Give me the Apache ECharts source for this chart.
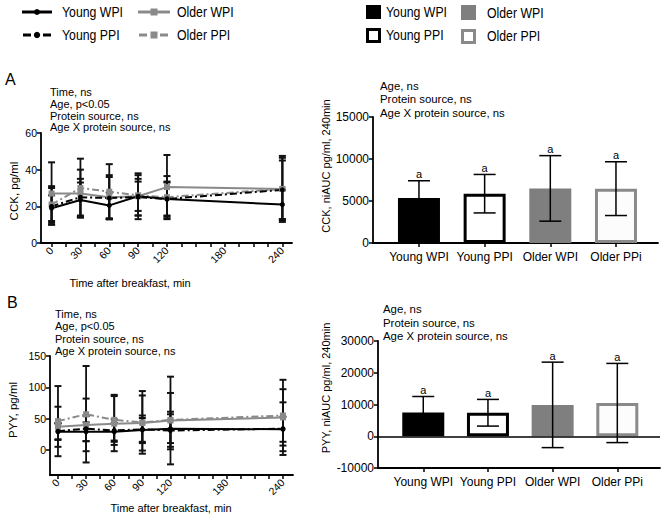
<!DOCTYPE html>
<html>
<head>
<meta charset="utf-8">
<script src="https://cdn.jsdelivr.net/npm/echarts@6/dist/echarts.min.js"></script>
<style>html,body{margin:0;padding:0;background:#fff}#c{width:663px;height:516px}</style>
</head>
<body>
<div id="c"></div>
<script>
// ---------- data ----------
const times = [0, 30, 60, 90, 120, 240];
const timeTicks = [0, 15, 30, 45, 60, 75, 90, 105, 120, 135, 150, 165, 180, 195, 210, 225, 240];
const timeLabels = [0, 30, 60, 90, 120, 180, 240];

// CCK (pg/ml), mean and SD
const cckYoungWpi = [19, 23.5, 20.5, 25.5, 24, 21];
const cckYoungWpiSd = [7, 9.5, 7, 8, 9, 8];
const cckYoungPpi = [20, 25, 24.5, 25, 24, 29];
const cckYoungPpiSd = [10, 10, 11.5, 10, 9.5, 16];
const cckOlderWpi = [27, 27, 25, 25.5, 30.5, 29.5];
const cckOlderWpiSd = [17, 13, 12, 12.5, 17.5, 18];
const cckOlderPpi = [21, 30, 28, 26, 25, 29.5];
const cckOlderPpiSd = [10, 16, 15, 11, 11.5, 17];

// PYY (pg/ml), mean and SD
const pyyYoungWpi = [29, 29, 29, 32, 34, 33];
const pyyYoungWpiSd = [13, 15, 14, 19, 23, 20];
const pyyYoungPpi = [30, 34, 31, 33, 31, 34];
const pyyYoungPpiSd = [13, 20, 18, 22, 30, 42];
const pyyOlderWpi = [37, 40, 42, 43, 47, 52];
const pyyOlderWpiSd = [32, 42, 44, 44, 70, 45];
const pyyOlderPpi = [46, 57, 48, 44, 48, 55];
const pyyOlderPpiSd = [56, 77, 40, 50, 43, 57];

// AUC bars
const barCategories = ['Young WPI', 'Young PPI', 'Older WPI', 'Older PPi'];
const cckAuc = [5350, 5870, 6500, 6470];
const cckAucSd = [2060, 2290, 3900, 3200];
const pyyAuc = [7470, 7400, 9880, 10470];
const pyyAucSd = [5050, 4200, 13460, 12470];
const sigLetters = ['a', 'a', 'a', 'a'];

const cckTicks = [0, 20, 40, 60];
const pyyTicks = [0, 50, 100, 150];

// ---------- styles ----------
const FONT = '"Liberation Sans", Arial, Helvetica, sans-serif';
const BLACK = '#000';
const GREY = '#8a8a8a';
const ERR = '#111';
const DASH = [7, 3, 2, 3];

const chart = echarts.init(document.getElementById('c'), null, {renderer: 'svg'});

function lineSeries(name, means, color, dashed, symbol, idx) {
  return {
    type: 'line', name, xAxisIndex: idx, yAxisIndex: idx,
    data: times.map((t, i) => [t, means[i]]),
    symbol, symbolSize: symbol === 'circle' ? 5 : 6,
    lineStyle: {color, width: 2, type: dashed ? DASH : 'solid'},
    itemStyle: {color}, z: 4, animation: false
  };
}
function errSeries(name, means, sds, idx) {
  return {
    type: 'custom', name, xAxisIndex: idx, yAxisIndex: idx, z: 3, animation: false,
    data: times.map((t, i) => [t, means[i] - sds[i], means[i] + sds[i]]),
    encode: {x: 0, y: [1, 2]},
    renderItem: (params, api) => {
      const lo = api.coord([api.value(0), api.value(1)]);
      const hi = api.coord([api.value(0), api.value(2)]);
      const w = 3.5;
      const st = {stroke: ERR, lineWidth: 1.8};
      return {type: 'group', children: [
        {type: 'line', shape: {x1: lo[0], y1: lo[1], x2: hi[0], y2: hi[1]}, style: st},
        {type: 'line', shape: {x1: hi[0] - w, y1: hi[1], x2: hi[0] + w, y2: hi[1]}, style: {stroke: ERR, lineWidth: 2}},
        {type: 'line', shape: {x1: lo[0] - w, y1: lo[1], x2: lo[0] + w, y2: lo[1]}, style: {stroke: ERR, lineWidth: 2}}
      ]};
    }
  };
}
const barStyles = [
  {color: '#000', borderColor: '#000', borderWidth: 3},
  {color: '#fff', borderColor: '#000', borderWidth: 3},
  {color: '#7f7f7f', borderColor: '#7f7f7f', borderWidth: 3},
  {color: '#fcfcfc', borderColor: GREY, borderWidth: 3}
];
function barSeries(name, vals, idx, zeroLine) {
  const s = {
    type: 'bar', name, xAxisIndex: idx, yAxisIndex: idx, barWidth: 42, animation: false, z: 2,
    data: vals.map((v, i) => ({value: [i, v], itemStyle: barStyles[i]}))
  };
  if (zeroLine) {
    s.markLine = {silent: true, symbol: 'none', label: {show: false}, animation: false,
      lineStyle: {color: '#000', width: 1.5, type: 'solid'}, data: [{yAxis: 0}]};
  }
  return s;
}
function barErr(name, vals, sds, idx) {
  return {
    type: 'custom', name, xAxisIndex: idx, yAxisIndex: idx, z: 5, animation: false,
    data: vals.map((v, i) => [i, v - sds[i], v + sds[i]]),
    encode: {x: 0, y: [1, 2]},
    renderItem: (params, api) => {
      const lo = api.coord([api.value(0), api.value(1)]);
      const hi = api.coord([api.value(0), api.value(2)]);
      const w = 11;
      const st = {stroke: '#000', lineWidth: 1.5};
      return {type: 'group', children: [
        {type: 'line', shape: {x1: lo[0], y1: lo[1], x2: hi[0], y2: hi[1]}, style: st},
        {type: 'line', shape: {x1: hi[0] - w, y1: hi[1], x2: hi[0] + w, y2: hi[1]}, style: st},
        {type: 'line', shape: {x1: lo[0] - w, y1: lo[1], x2: lo[0] + w, y2: lo[1]}, style: st},
        {type: 'text', x: hi[0], y: hi[1] - 1, style: {text: sigLetters[params.dataIndex], font: '11px ' + FONT,
          fill: '#000', textAlign: 'center', textVerticalAlign: 'bottom', verticalAlign: 'bottom'}}
      ]};
    }
  };
}

const axisLineStyle = {show: true, onZero: false, lineStyle: {color: '#000', width: 1.8}};
const tickStyle = {show: true, length: 4, lineStyle: {color: '#000', width: 1.5}};
const labelBase = {color: '#000', fontFamily: FONT, fontSize: 10.5, formatter: v => String(v)};

function timeAxis(idx, min, max) {
  return {type: 'value', gridIndex: idx, min, max,
    axisLine: axisLineStyle, splitLine: {show: false},
    axisTick: Object.assign({customValues: timeTicks}, tickStyle),
    axisLabel: Object.assign({}, labelBase, {customValues: timeLabels, rotate: 45, margin: 6})};
}
function catAxis(idx, min, max) {
  return {type: 'value', gridIndex: idx, min, max,
    axisLine: axisLineStyle, splitLine: {show: false},
    axisTick: Object.assign({customValues: [0, 1, 2, 3]}, tickStyle),
    axisLabel: Object.assign({}, labelBase, {customValues: [0, 1, 2, 3], margin: 8, fontSize: 12,
      formatter: v => barCategories[Math.round(v)]})};
}

function textEl(x, y, text, size, opts) {
  return Object.assign({type: 'text', x, y, style: Object.assign({text, font: size + 'px ' + FONT, fill: '#000',
    textAlign: 'left', textVerticalAlign: 'middle', verticalAlign: 'middle'}, (opts && opts.style) || {})},
    opts && opts.el || {});
}
function legText(x, y, text) {
  return {type: 'group', x, y, scaleX: 0.82, children: [
    {type: 'text', x: 0, y: 0, style: {text, font: '15px ' + FONT, fill: '#000', textAlign: 'left',
      textVerticalAlign: 'middle', verticalAlign: 'middle'}}]};
}
function seg(x1, x2, y, color, w) {
  return {type: 'line', shape: {x1, y1: y, x2, y2: y}, style: {stroke: color, lineWidth: w || 3}};
}

const graphic = [
  // left legend
  seg(22, 52, 12, BLACK), {type: 'circle', shape: {cx: 37, cy: 12, r: 3}, style: {fill: BLACK}},
  legText(62, 12, 'Young WPI'),
  seg(23, 31, 35, BLACK), seg(43, 51, 35, BLACK), {type: 'circle', shape: {cx: 37, cy: 35, r: 3.2}, style: {fill: BLACK}},
  legText(62, 35, 'Young PPI'),
  seg(138, 170, 12, GREY), {type: 'rect', shape: {x: 150.5, y: 8.5, width: 7, height: 7}, style: {fill: GREY}},
  legText(177, 12, 'Older WPI'),
  seg(139, 147, 35, GREY), seg(160, 168, 35, GREY), {type: 'rect', shape: {x: 150.5, y: 31.5, width: 7, height: 7}, style: {fill: GREY}},
  legText(177, 35, 'Older PPI'),
  // right legend
  {type: 'rect', shape: {x: 366, y: 5, width: 15, height: 14}, style: {fill: '#000'}},
  legText(386, 12, 'Young WPI'),
  {type: 'rect', shape: {x: 461, y: 5, width: 15, height: 15}, style: {fill: '#7f7f7f'}},
  legText(487, 13, 'Older WPI'),
  {type: 'rect', shape: {x: 367.5, y: 29.5, width: 12, height: 12}, style: {fill: '#fff', stroke: '#000', lineWidth: 3}},
  legText(386, 35, 'Young PPI'),
  {type: 'rect', shape: {x: 462.5, y: 30.5, width: 12, height: 12}, style: {fill: '#fff', stroke: GREY, lineWidth: 3}},
  legText(487, 36, 'Older PPI'),
  // panel letters
  textEl(5, 79, 'A', 16),
  textEl(7, 302, 'B', 16),
  // annotations
  textEl(50, 86, 'Time, ns\nAge, p<0.05\nProtein source, ns\nAge X protein source, ns', 11,
    {style: {lineHeight: 11.8, textVerticalAlign: 'top', verticalAlign: 'top'}}),
  textEl(380, 79.5, 'Age, ns\nProtein source, ns\nAge X protein source, ns', 11.4,
    {style: {lineHeight: 13.3, textVerticalAlign: 'top', verticalAlign: 'top'}}),
  textEl(55, 308, 'Time, ns\nAge, p<0.05\nProtein source, ns\nAge X protein source, ns', 11,
    {style: {lineHeight: 12.2, textVerticalAlign: 'top', verticalAlign: 'top'}}),
  textEl(383, 302.7, 'Age, ns\nProtein source, ns\nAge X protein source, ns', 11.4,
    {style: {lineHeight: 13.3, textVerticalAlign: 'top', verticalAlign: 'top'}}),
  // axis titles
  textEl(130, 283, 'Time after breakfast, min', 11, {style: {textAlign: 'center'}}),
  textEl(171, 508, 'Time after breakfast, min', 11, {style: {textAlign: 'center'}}),
  textEl(14, 191, 'CCK, pg/ml', 11.5, {style: {textAlign: 'center'}, el: {rotation: Math.PI / 2}}),
  textEl(13, 410, 'PYY, pg/ml', 11.5, {style: {textAlign: 'center'}, el: {rotation: Math.PI / 2}}),
  textEl(326, 166, 'CCK, niAUC pg/ml, 240min', 11, {style: {textAlign: 'center'}, el: {rotation: Math.PI / 2}}),
  textEl(326, 388, 'PYY, niAUC pg/ml, 240min', 11, {style: {textAlign: 'center'}, el: {rotation: Math.PI / 2}})
];

const option = {
  backgroundColor: '#fff',
  animation: false,
  grid: [
    {left: 41, top: 133, width: 251, height: 110},
    {left: 50, top: 356, width: 243, height: 119},
    {left: 373, top: 117, width: 285, height: 126},
    {left: 378, top: 341, width: 282, height: 127}
  ],
  xAxis: [
    timeAxis(0, -11, 250),
    timeAxis(1, -8.5, 250.7),
    catAxis(2, -0.70, 3.64),
    catAxis(3, -0.70, 3.66)
  ],
  yAxis: [
    {type: 'value', gridIndex: 0, min: 0, max: 60, axisLine: axisLineStyle, splitLine: {show: false},
      axisTick: Object.assign({customValues: cckTicks}, tickStyle),
      axisLabel: Object.assign({}, labelBase, {customValues: cckTicks, margin: 4})},
    {type: 'value', gridIndex: 1, min: -40, max: 150, axisLine: axisLineStyle, splitLine: {show: false},
      axisTick: Object.assign({customValues: pyyTicks}, tickStyle),
      axisLabel: Object.assign({}, labelBase, {customValues: pyyTicks, margin: 4})},
    {type: 'value', gridIndex: 2, min: 0, max: 15000, interval: 5000, axisLine: axisLineStyle, splitLine: {show: false},
      axisTick: tickStyle, axisLabel: Object.assign({}, labelBase, {margin: 4, fontSize: 12})},
    {type: 'value', gridIndex: 3, min: -10000, max: 30000, interval: 10000, axisLine: axisLineStyle, splitLine: {show: false},
      axisTick: tickStyle, axisLabel: Object.assign({}, labelBase, {margin: 4, fontSize: 12})}
  ],
  series: [
    errSeries('Older PPI', cckOlderPpi, cckOlderPpiSd, 0),
    errSeries('Older WPI', cckOlderWpi, cckOlderWpiSd, 0),
    errSeries('Young PPI', cckYoungPpi, cckYoungPpiSd, 0),
    errSeries('Young WPI', cckYoungWpi, cckYoungWpiSd, 0),
    lineSeries('Older PPI', cckOlderPpi, GREY, true, 'rect', 0),
    lineSeries('Older WPI', cckOlderWpi, GREY, false, 'rect', 0),
    lineSeries('Young PPI', cckYoungPpi, BLACK, true, 'circle', 0),
    lineSeries('Young WPI', cckYoungWpi, BLACK, false, 'circle', 0),

    errSeries('Older PPI', pyyOlderPpi, pyyOlderPpiSd, 1),
    errSeries('Older WPI', pyyOlderWpi, pyyOlderWpiSd, 1),
    errSeries('Young PPI', pyyYoungPpi, pyyYoungPpiSd, 1),
    errSeries('Young WPI', pyyYoungWpi, pyyYoungWpiSd, 1),
    lineSeries('Older PPI', pyyOlderPpi, GREY, true, 'rect', 1),
    lineSeries('Older WPI', pyyOlderWpi, GREY, false, 'rect', 1),
    lineSeries('Young PPI', pyyYoungPpi, BLACK, true, 'circle', 1),
    lineSeries('Young WPI', pyyYoungWpi, BLACK, false, 'circle', 1),

    barSeries('CCK niAUC', cckAuc, 2, false),
    barErr('CCK niAUC SD', cckAuc, cckAucSd, 2),
    barSeries('PYY niAUC', pyyAuc, 3, true),
    barErr('PYY niAUC SD', pyyAuc, pyyAucSd, 3)
  ],
  graphic
};
chart.setOption(option);
</script>
</body>
</html>
